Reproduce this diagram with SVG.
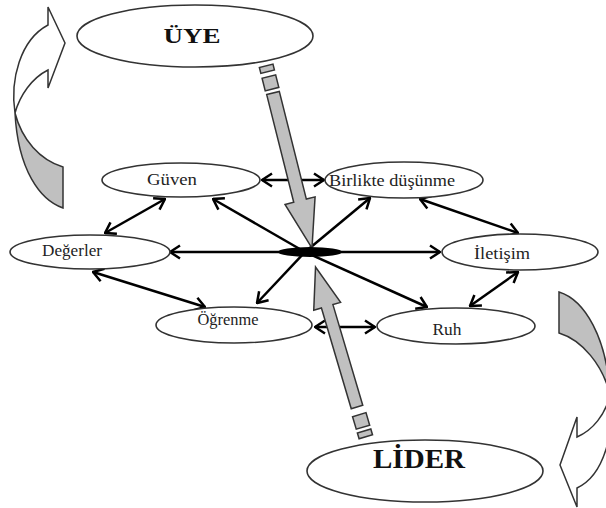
<svg xmlns="http://www.w3.org/2000/svg" width="606" height="508" viewBox="0 0 606 508">
<defs>
<marker id="ah" viewBox="0 0 12 16" refX="11" refY="8" markerWidth="12" markerHeight="16" markerUnits="userSpaceOnUse" orient="auto-start-reverse">
<path d="M1,1.5 L11,8 L1,14.5" fill="none" stroke="#000" stroke-width="2.5"/>
</marker>
<style>
.node ellipse{fill:#fff;stroke:#333;stroke-width:1.6}
.lbl{font-family:"Liberation Serif","Times New Roman",serif;font-size:16px;fill:#222;text-anchor:middle}
.big{font-family:"Liberation Serif","Times New Roman",serif;font-weight:bold;fill:#111;text-anchor:middle}
.con line{stroke:#000;stroke-width:2.5;marker-end:url(#ah)}
.con line.bi{marker-start:url(#ah)}
.gray{fill:#c0c0c0;stroke:#333;stroke-width:1.5;stroke-linejoin:miter}
.white{fill:#fff;stroke:#333;stroke-width:1.5}
</style>
</defs>
<rect width="606" height="508" fill="#fff"/>

<!-- curved arrows -->
<g id="curve-left">
<path class="gray" d="M15,113 C18,170 40,200 63,208 L63,167 C40,160 22,140 15,113 Z"/>
<path class="white" d="M15,113 C10,80 20,40 48,25 L48,7 L65,43 L48,88 L48,70 C32,78 20,95 15,113 Z"/>
</g>
<g id="curve-right">
<path class="gray" d="M610,395 C607,338 585,300 559,292 L559,333 C582,340 603,365 610,395 Z"/>
<path class="white" d="M610,395 C615,430 605,475 577,488 L577,507 L560,465 L577,417 L577,437 C593,430 605,415 610,395 Z"/>
</g>

<!-- connectors -->
<g id="connectors" class="con">
<line x1="305" y1="252" x2="213" y2="199"/>
<line class="bi" x1="170" y1="252" x2="440" y2="252"/>
<line x1="305" y1="252" x2="257" y2="303"/>
<line x1="305" y1="252" x2="370" y2="198"/>
<line x1="305" y1="252" x2="427" y2="307"/>
<line class="bi" x1="165" y1="199" x2="105" y2="233"/>
<line class="bi" x1="93" y1="272" x2="205" y2="307"/>
<line class="bi" x1="262" y1="180" x2="324" y2="180"/>
<line class="bi" x1="420" y1="199" x2="518" y2="233"/>
<line class="bi" x1="518" y1="272" x2="470" y2="306"/>
<line class="bi" x1="315" y1="327" x2="375" y2="327"/>
</g>

<!-- gray arrows -->
<g id="arrow-down" transform="translate(273,93) rotate(-14.1)">
<rect class="gray" x="-7" y="-28" width="14" height="6"/>
<rect class="gray" x="-7" y="-17" width="14" height="13"/>
<polygon class="gray" points="-6.5,0 6.5,0 6.5,111 15.5,111 0,160 -15.5,111 -6.5,111"/>
</g>
<g id="arrow-up" transform="translate(357,407) rotate(-16.5)">
<polygon class="gray" points="-6,0 6,0 6,-105 14,-105 0,-146 -14,-105 -6,-105"/>
<rect class="gray" x="-7" y="8" width="14" height="13"/>
<rect class="gray" x="-7" y="25" width="14" height="6"/>
</g>

<g id="hub"><ellipse cx="310" cy="252" rx="32" ry="5" fill="#000"/></g>

<!-- nodes -->
<g id="uye" class="node"><ellipse cx="195" cy="36" rx="118" ry="31"/><text class="big" x="192" y="43" font-size="22" textLength="57" lengthAdjust="spacingAndGlyphs">ÜYE</text></g>
<g id="lider" class="node"><ellipse cx="425" cy="471" rx="118" ry="31"/><text class="big" x="419" y="468" font-size="28" textLength="92" lengthAdjust="spacingAndGlyphs">LİDER</text></g>
<g id="guven" class="node"><ellipse cx="181" cy="180" rx="79" ry="17"/><text class="lbl" x="172" y="185" textLength="50" lengthAdjust="spacingAndGlyphs">Güven</text></g>
<g id="birlikte" class="node"><ellipse cx="404" cy="180" rx="79" ry="18"/><text class="lbl" x="392" y="186" textLength="126" lengthAdjust="spacingAndGlyphs">Birlikte düşünme</text></g>
<g id="degerler" class="node"><ellipse cx="90" cy="252" rx="80" ry="17"/><text class="lbl" x="72" y="256" textLength="60" lengthAdjust="spacingAndGlyphs">Değerler</text></g>
<g id="iletisim" class="node"><ellipse cx="520" cy="252" rx="78" ry="18"/><text class="lbl" x="502" y="259" textLength="56" lengthAdjust="spacingAndGlyphs">İletişim</text></g>
<g id="ogrenme" class="node"><ellipse cx="234" cy="325" rx="78" ry="18"/><text class="lbl" x="228" y="325" textLength="61" lengthAdjust="spacingAndGlyphs">Öğrenme</text></g>
<g id="ruh" class="node"><ellipse cx="456" cy="326" rx="79" ry="18"/><text class="lbl" x="447" y="335" textLength="29" lengthAdjust="spacingAndGlyphs">Ruh</text></g>
</svg>
